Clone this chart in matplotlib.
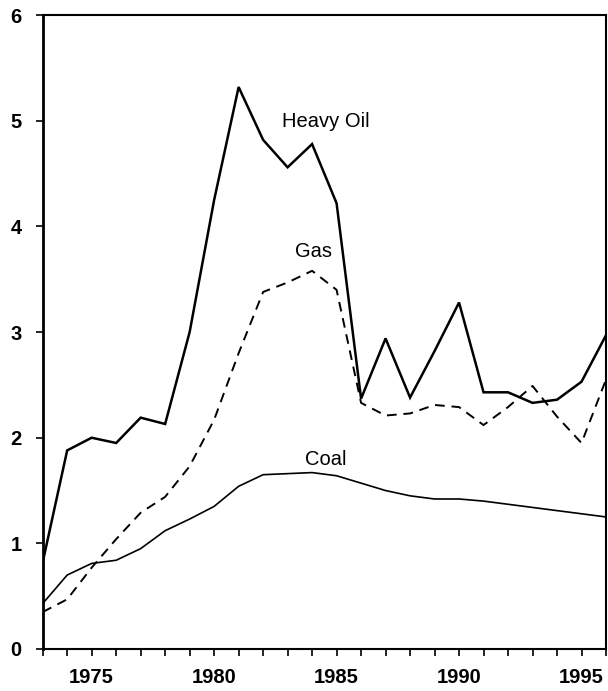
import matplotlib
matplotlib.use("Agg")
import matplotlib.pyplot as plt
from matplotlib.ticker import MultipleLocator, FixedLocator

years = list(range(1973, 1997))
heavy_oil = [0.82, 1.88, 2.00, 1.95, 2.19, 2.13, 3.00, 4.25, 5.32, 4.82, 4.56, 4.78, 4.22,
             2.37, 2.94, 2.38, 2.82, 3.28, 2.43, 2.43, 2.33, 2.36, 2.53, 2.97]
gas = [0.35, 0.47, 0.77, 1.04, 1.29, 1.44, 1.73, 2.17, 2.80, 3.38, 3.47, 3.58, 3.40,
       2.33, 2.21, 2.23, 2.31, 2.29, 2.12, 2.29, 2.49, 2.20, 1.95, 2.55]
coal = [0.43, 0.70, 0.81, 0.84, 0.95, 1.12, 1.23, 1.35, 1.54, 1.65, 1.66, 1.67, 1.64,
        1.57, 1.50, 1.45, 1.42, 1.42, 1.40, 1.37, 1.34, 1.31, 1.28, 1.25]
labels = ["Heavy Oil", "Gas", "Coal"]
label_pos = [(1984.56, 4.99), (1984.07, 3.76), (1984.56, 1.79)]
xtick_labels = [1975, 1980, 1985, 1990, 1995]
yticks = [0, 1, 2, 3, 4, 5, 6]

plt.rcParams['font.family'] = ['Liberation Sans', 'DejaVu Sans']

fig = plt.figure(figsize=(6.08, 6.91), dpi=100)
ax = fig.add_axes([0.0702, 0.0608, 0.9265, 0.9172])

ax.plot(years, heavy_oil, color='black', lw=1.8, solid_joinstyle='miter')
ax.plot(years, gas, color='black', lw=1.4, linestyle=(0, (5, 3.5)))
ax.plot(years, coal, color='black', lw=1.2)

for txt, (x, y) in zip(labels, label_pos):
    ax.text(x, y, txt, ha='center', va='center', fontsize=14.5, color='black')

ax.set_xlim(1973, 1996)
ax.set_ylim(0, 6)
ax.xaxis.set_major_locator(FixedLocator(xtick_labels))
ax.xaxis.set_minor_locator(MultipleLocator(1))
ax.set_yticks(yticks)
ax.set_xticklabels([str(v) for v in xtick_labels], fontsize=14.5, fontweight='bold')
ax.set_yticklabels([str(v) for v in yticks], fontsize=14.5, fontweight='bold')
ax.tick_params(axis='both', which='major', direction='out', length=5, width=1.2)
ax.tick_params(axis='x', which='minor', direction='out', length=5, width=1.2)
ax.tick_params(axis='x', pad=9)
ax.tick_params(axis='y', pad=10)
for s in ['left']:
    ax.spines[s].set_linewidth(2.0)
for s in ['bottom', 'top', 'right']:
    ax.spines[s].set_linewidth(1.5)

fig.savefig("out.png", dpi=100)
